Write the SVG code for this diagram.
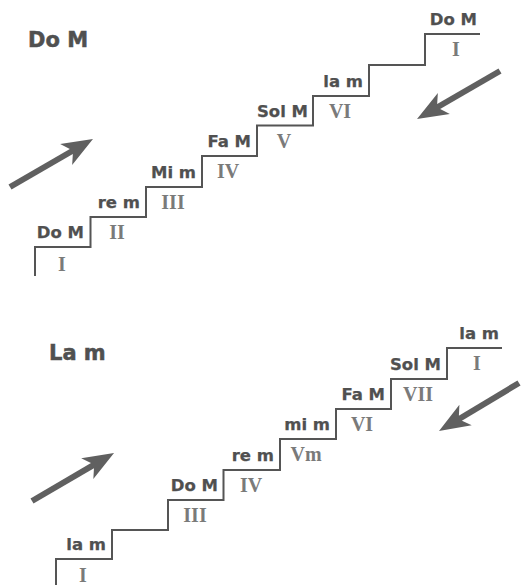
<svg xmlns="http://www.w3.org/2000/svg" width="521" height="585" viewBox="0 0 521 585">
<style>
.stair{fill:none;stroke:#555;stroke-width:2}
.lbl{font-family:"DejaVu Sans","Liberation Sans",sans-serif;font-weight:bold;font-size:16.5px;fill:#505050;stroke:#505050;stroke-width:0.25;text-anchor:end}
.num{font-family:"Liberation Serif","DejaVu Serif",serif;font-weight:bold;font-size:20px;fill:#7a7a7a;text-anchor:middle}
.title{font-family:"DejaVu Sans","Liberation Sans",sans-serif;font-weight:bold;font-size:21px;fill:#505050;stroke:#505050;stroke-width:0.5}
.arrow{fill:none;stroke:#606060;stroke-width:6;marker-end:url(#head)}
</style>
<defs>
<marker id="head" markerUnits="userSpaceOnUse" viewBox="-12 -14 36 28" markerWidth="36" markerHeight="28" refX="0" refY="0" orient="auto">
<path d="M21,0 L-10,-12 L-4,-3 L-4,3 L-10,12 Z" fill="#606060"/>
</marker>
</defs>
<g id="major">
<text class="title" x="28" y="47">Do M</text>
<path class="stair" d="M35,276 V247 H90.5 V217 H146 V187 H202 V156 H257 V125.5 H313 V96 H369 V65 H425 V34 H480"/>
<g id="m1"><text class="lbl" x="84" y="238">Do M</text><text class="num" x="62" y="271">I</text></g>
<g id="m2"><text class="lbl" x="140" y="208">re m</text><text class="num" x="117" y="239">II</text></g>
<g id="m3"><text class="lbl" x="196" y="178">Mi m</text><text class="num" x="173" y="209">III</text></g>
<g id="m4"><text class="lbl" x="251" y="147">Fa M</text><text class="num" x="228" y="178">IV</text></g>
<g id="m5"><text class="lbl" x="308" y="116.5">Sol M</text><text class="num" x="284" y="147.5">V</text></g>
<g id="m6"><text class="lbl" x="363" y="87">la m</text><text class="num" x="340" y="118">VI</text></g>
<g id="m8"><text class="lbl" x="477" y="25">Do M</text><text class="num" x="456" y="56">I</text></g>
</g>
<g id="minor">
<text class="title" x="49" y="360">La m</text>
<path class="stair" d="M56,586 V559 H112 V530 H168 V500 H223.5 V470 H280 V439 H336 V409 H391 V379 H447 V348 H502"/>
<g id="n1"><text class="lbl" x="106" y="550">la m</text><text class="num" x="83" y="582">I</text></g>
<g id="n3"><text class="lbl" x="218" y="491">Do M</text><text class="num" x="195" y="522">III</text></g>
<g id="n4"><text class="lbl" x="274" y="461">re m</text><text class="num" x="251" y="492">IV</text></g>
<g id="n5"><text class="lbl" x="330" y="430">mi m</text><text class="num" x="306" y="461">Vm</text></g>
<g id="n6"><text class="lbl" x="385" y="400">Fa M</text><text class="num" x="362" y="431">VI</text></g>
<g id="n7"><text class="lbl" x="441" y="370">Sol M</text><text class="num" x="418" y="401">VII</text></g>
<g id="n8"><text class="lbl" x="499" y="339">la m</text><text class="num" x="477" y="370">I</text></g>
</g>
<g id="connectors">
<line class="arrow" x1="10" y1="187" x2="74.8" y2="149.5"/>
<line class="arrow" x1="500" y1="71" x2="435.2" y2="108.5"/>
<line class="arrow" x1="32" y1="501" x2="95.9" y2="463.6"/>
<line class="arrow" x1="519" y1="383" x2="457" y2="420.2"/>
</g>
</svg>
